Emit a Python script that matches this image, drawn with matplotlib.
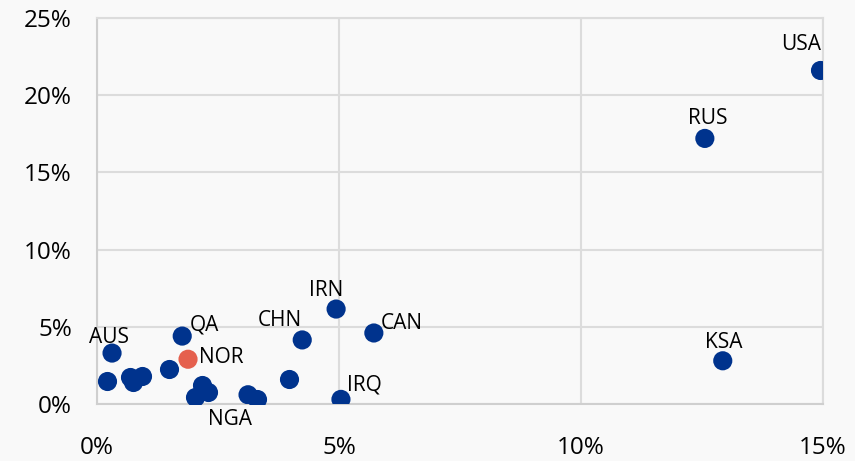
import matplotlib.pyplot as plt
from matplotlib.ticker import FuncFormatter

plt.rcParams['font.family'] = ['Open Sans', 'DejaVu Sans']

# ---------------------------- data ----------------------------
# x: share of something (%), y: share of something else (%)
labels = ['USA', 'RUS', 'KSA', 'IRN', 'CAN', 'CHN', 'IRQ', 'QA', 'AUS', 'NOR', 'NGA']
x_lab = [14.95, 12.56, 12.93, 4.94, 5.72, 4.24, 5.04, 1.76, 0.31, 1.88, 3.12]
y_lab = [21.6, 17.2, 2.8, 6.15, 4.6, 4.15, 0.3, 4.4, 3.3, 2.9, 0.6]
# text offsets (points) for each label
off_x = [-14, 2, 1, -7, 20, -16, 17, 16, -2, 24, -13]
off_y = [19, 14, 13, 13, 7, 14, 10, 8, 11, 1, -18]

# unlabelled points
x_other = [1.49, 0.21, 0.68, 0.74, 0.93, 3.97, 2.02, 2.17, 2.29, 3.31]
y_other = [2.3, 1.5, 1.75, 1.4, 1.8, 1.6, 0.45, 1.2, 0.8, 0.3]

highlight = 'NOR'
blue = '#00338D'
red = '#E5604E'
grid_col = '#DCDCDC'
bg = '#F9F9F9'

# ---------------------------- plot ----------------------------
fig = plt.figure(figsize=(8.55, 4.61), dpi=100, facecolor=bg)
ax = fig.add_axes([0.1135, 0.1236, 0.849, 0.8374], facecolor=bg)

ax.scatter(x_other, y_other, s=190, color=blue, zorder=3, linewidths=0)
cols = [red if l == highlight else blue for l in labels]
ax.scatter(x_lab, y_lab, s=190, color=cols, zorder=3, linewidths=0)

for l, x, y, dx, dy in zip(labels, x_lab, y_lab, off_x, off_y):
    ax.annotate(l, (x, y), xytext=(dx, dy), textcoords='offset points',
                ha='center', va='center', fontsize=15, color='black', zorder=4)

ax.set_xlim(0, 15)
ax.set_ylim(0, 25)
ax.set_xticks([0, 5, 10, 15])
ax.set_yticks([0, 5, 10, 15, 20, 25])
pct = FuncFormatter(lambda v, p: f'{v:.0f}%')
ax.xaxis.set_major_formatter(pct)
ax.yaxis.set_major_formatter(pct)
ax.tick_params(axis='both', length=0, labelsize=17.5, colors='black')
ax.tick_params(axis='x', pad=23)
ax.tick_params(axis='y', pad=18)

ax.grid(True, color=grid_col, linewidth=1.5, zorder=0)
ax.set_axisbelow(True)
for s in ax.spines.values():
    s.set_color(grid_col)
    s.set_linewidth(1.5)
ax.spines['left'].set_color('#CFCFCF')
ax.spines['bottom'].set_color('#CFCFCF')

fig.savefig('out.png', dpi=100, facecolor=bg)
